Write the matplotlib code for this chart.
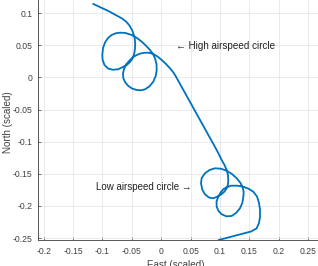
import matplotlib
matplotlib.use("Agg")
import matplotlib.pyplot as plt

plt.rcParams['font.family'] = ['Liberation Sans', 'DejaVu Sans']

# Flight path (East, North)
east = [-0.1156, -0.0901, -0.0673, -0.0600, -0.0541, -0.0490, -0.0456, -0.0444, -0.0447, -0.0459,
        -0.0481, -0.0515, -0.0549, -0.0588, -0.0668, -0.0736, -0.0821, -0.0906, -0.0966, -0.0998,
        -0.1003, -0.0991, -0.0957, -0.0906, -0.0844, -0.0770, -0.0702, -0.0617, -0.0503, -0.0413,
        -0.0333, -0.0260, -0.0192, -0.0141, -0.0107, -0.0082, -0.0078, -0.0095, -0.0136, -0.0201,
        -0.0277, -0.0345, -0.0418, -0.0498, -0.0561, -0.0612, -0.0646, -0.0651, -0.0629, -0.0592,
        -0.0532, -0.0473, -0.0418, -0.0354, -0.0277, -0.0209, -0.0136, -0.0065, 0.0007, 0.0080,
        0.0148, 0.0199, 0.0233, 0.0267,
        0.0942, 0.1027, 0.1075, 0.1112, 0.1134, 0.1139, 0.1134, 0.1112, 0.1075, 0.1027,
        0.0956, 0.0884, 0.0811, 0.0743, 0.0697, 0.0675, 0.0687, 0.0743, 0.0820, 0.0913,
        0.1015, 0.1112, 0.1202, 0.1282, 0.1344, 0.1384, 0.1401, 0.1395, 0.1378, 0.1338,
        0.1276, 0.1197, 0.1109, 0.1027, 0.0973, 0.0942, 0.0939, 0.0969, 0.1007, 0.1054,
        0.1117, 0.1197, 0.1296, 0.1395, 0.1483, 0.1565, 0.1628, 0.1662, 0.1679, 0.1679,
        0.1662, 0.1619, 0.1526, 0.1474, 0.0981]
north = [0.1145, 0.1036, 0.0922, 0.0872, 0.0810, 0.0724, 0.0631, 0.0533, 0.0452, 0.0377,
         0.0312, 0.0262, 0.0226, 0.0195, 0.0156, 0.0128, 0.0120, 0.0140, 0.0195, 0.0273,
         0.0350, 0.0460, 0.0545, 0.0615, 0.0662, 0.0690, 0.0698, 0.0695, 0.0662, 0.0615,
         0.0558, 0.0495, 0.0428, 0.0366, 0.0299, 0.0210, 0.0117, 0.0023, -0.0065, -0.0137,
         -0.0184, -0.0199, -0.0195, -0.0171, -0.0132, -0.0078, -0.0012, 0.0070, 0.0143, 0.0210,
         0.0273, 0.0322, 0.0350, 0.0374, 0.0386, 0.0385, 0.0366, 0.0327, 0.0273, 0.0210,
         0.0143, 0.0086, 0.0039, -0.0016,
         -0.1129, -0.1285, -0.1363, -0.1441, -0.1519, -0.1597, -0.1667, -0.1726, -0.1776, -0.1815,
         -0.1854, -0.1882, -0.1869, -0.1819, -0.1745, -0.1648, -0.1565, -0.1492, -0.1441, -0.1414,
         -0.1421, -0.1452, -0.1503, -0.1570, -0.1639, -0.1710, -0.1783, -0.1857, -0.1955, -0.2037,
         -0.2106, -0.2157, -0.2162, -0.2131, -0.2079, -0.2012, -0.1931, -0.1857, -0.1794, -0.1741,
         -0.1706, -0.1685, -0.1685, -0.1701, -0.1732, -0.1779, -0.1854, -0.1955, -0.2064, -0.2173,
         -0.2266, -0.2352, -0.2399, -0.2411, -0.2530]

xticks = [-0.2, -0.15, -0.1, -0.05, 0, 0.05, 0.1, 0.15, 0.2, 0.25]
xticklabels = ['-0.2', '-0.15', '-0.1', '-0.05', '0', '0.05', '0.1', '0.15', '0.2', '0.25']
yticks = [-0.25, -0.2, -0.15, -0.1, -0.05, 0, 0.05, 0.1]
yticklabels = ['-0.25', '-0.2', '-0.15', '-0.1', '-0.05', '0', '0.05', '0.1']

high_label = '\u2190 High airspeed circle'
low_label = 'Low airspeed circle \u2192'

W, H = 318, 266
fig = plt.figure(figsize=(W / 100, H / 100), dpi=100)
left, right, top, bottom = 37.7, 318, 0, 240
ax = fig.add_axes([left / W, 1 - bottom / H, (right - left) / W, (bottom - top) / H])
renderer = fig.canvas.get_renderer()


def fit_width(t, target_px):
    w = t.get_window_extent(renderer).width
    t.set_fontsize(t.get_fontsize() * target_px / w)


ax.plot(east, north, color='#0072BD', lw=1.3, solid_joinstyle='round')

ax.set_xlim(-0.2102, 0.2665)
ax.set_ylim(-0.2531, 0.1207)
ax.set_xticks(xticks)
ax.set_xticklabels(xticklabels)
ax.set_yticks(yticks)
ax.set_yticklabels(yticklabels)
ax.grid(True, color='#e6e6e6', lw=0.6)
ax.set_axisbelow(True)
for s in ['top', 'right']:
    ax.spines[s].set_visible(False)
for s in ['left', 'bottom']:
    ax.spines[s].set_color('#555555')
    ax.spines[s].set_linewidth(0.7)

# calibrate tick font size so that "-0.15" is ~19 px wide
probe = fig.text(0, 0, '-0.15', fontsize=7)
fit_width(probe, 19.5)
tick_fs = probe.get_fontsize()
probe.remove()

ax.tick_params(direction='in', length=2.5, width=0.6, color='#555555',
               labelsize=tick_fs, labelcolor='#404040')
ax.tick_params(axis='x', pad=5)
ax.tick_params(axis='y', pad=4)

xl = fig.text(176 / W, 1 - 259.5 / H, 'East (scaled)', fontsize=7.5, color='#404040',
              ha='center', va='top')
fit_width(xl, 58)
yl = fig.text(8.5 / W, 1 - 122 / H, 'North (scaled)', fontsize=xl.get_fontsize(),
              color='#404040', ha='center', va='center', rotation=90)

t1 = ax.text(0.0255, 0.0495, high_label, fontsize=7, color='#222222',
             va='center', ha='left')
fit_width(t1, 99)
t2 = ax.text(-0.1115, -0.1705, low_label, fontsize=7, color='#222222',
             va='center', ha='left')
fit_width(t2, 95.6)

fig.savefig('out.png', dpi=100)
